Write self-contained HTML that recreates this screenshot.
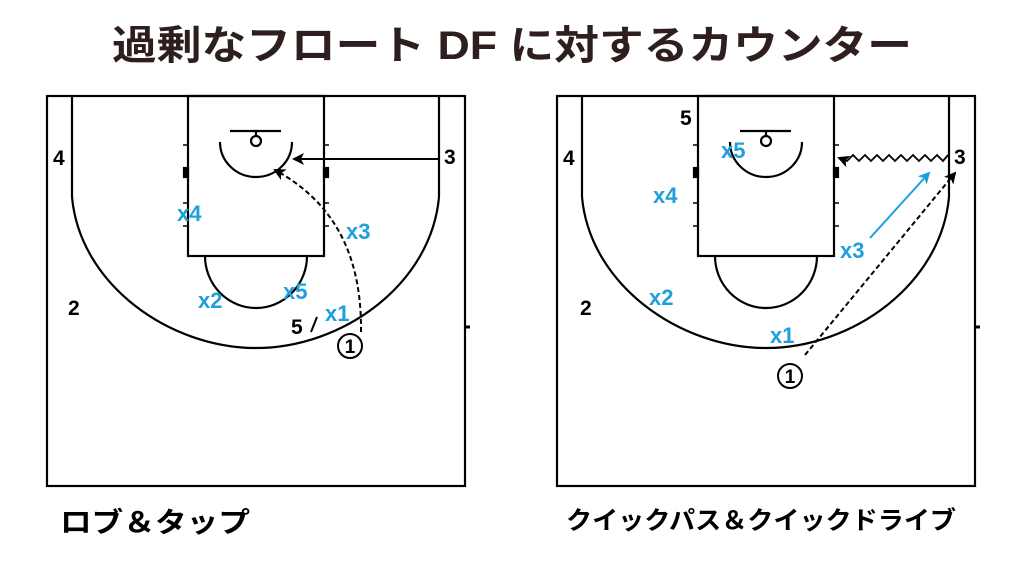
<!DOCTYPE html>
<html><head><meta charset="utf-8"><style>
html,body{margin:0;padding:0;background:#fff;}
svg{display:block;}
text{font-family:"Liberation Sans","Noto Sans CJK JP",sans-serif;font-weight:bold;}
</style></head><body>
<svg width="1024" height="562" viewBox="0 0 1024 562" xmlns="http://www.w3.org/2000/svg">
<defs>
<marker id="ah" markerWidth="12" markerHeight="12" refX="10" refY="6" orient="auto" markerUnits="userSpaceOnUse"><path d="M0,0 L12,6 L0,12 L3,6 Z" fill="#000"/></marker>
<marker id="ahb" markerWidth="12" markerHeight="12" refX="10" refY="6" orient="auto" markerUnits="userSpaceOnUse"><path d="M0,0 L12,6 L0,12 L3,6 Z" fill="#1ea0dc"/></marker>
<g id="court" fill="none" stroke="#000" stroke-width="2.2">
<rect x="47" y="96" width="418" height="390"/>
<line x1="465" y1="327" x2="470" y2="327" stroke-width="3"/>
<rect x="188" y="96" width="136" height="160"/>
<line x1="72" y1="96" x2="72" y2="197"/>
<line x1="439" y1="96" x2="439" y2="197"/>
<path d="M72,197 C80,285 170,348 256,348 C342,348 431,285 439,197"/>
<path d="M205,256 A51,52 0 0 0 307,256"/>
<path d="M220,142 A36,35 0 0 0 292,142"/>
<line x1="230" y1="131" x2="281" y2="131"/>
<line x1="256" y1="131" x2="256" y2="136"/>
<circle cx="256" cy="141" r="5"/>
<g stroke-width="1.5">
<line x1="183" y1="145" x2="188" y2="145"/><line x1="324" y1="145" x2="329" y2="145"/>
<line x1="183" y1="203" x2="188" y2="203"/><line x1="324" y1="203" x2="329" y2="203"/>
<line x1="183" y1="226" x2="188" y2="226"/><line x1="324" y1="226" x2="329" y2="226"/>
</g>
<rect x="184" y="168" width="4" height="9" fill="#000"/><rect x="324" y="168" width="4" height="9" fill="#000"/>
</g>
</defs>
<text x="512" y="59" text-anchor="middle" font-size="40" fill="#2e1e1e" textLength="800" lengthAdjust="spacingAndGlyphs">過剰なフロート DF に対するカウンター</text>

<use href="#court"/>
<use href="#court" x="510"/>

<g font-size="21" fill="#000">
<text x="53" y="165">4</text><text x="68" y="315">2</text><text x="444" y="164">3</text>
<text x="291" y="334">5</text>
</g>
<path d="M311,332 L317,317" stroke="#000" stroke-width="2"/>
<g font-size="22" fill="#1ea0dc">
<text x="177" y="221">x4</text><text x="346" y="239">x3</text><text x="198" y="308">x2</text><text x="283" y="299">x5</text><text x="325" y="321">x1</text>
</g>
<circle cx="350" cy="346" r="12" fill="#fff" stroke="#000" stroke-width="2"/>
<text x="350" y="353" text-anchor="middle" font-size="19">1</text>
<line x1="439" y1="159" x2="294" y2="159" stroke="#000" stroke-width="2" marker-end="url(#ah)"/>
<path d="M361,332 C362,250 330,200 275,170" fill="none" stroke="#000" stroke-width="2" stroke-dasharray="5,3" marker-end="url(#ah)"/>

<g font-size="21" fill="#000">
<text x="563" y="165">4</text><text x="580" y="315">2</text><text x="954" y="164">3</text><text x="680" y="125">5</text>
</g>
<g font-size="22" fill="#1ea0dc">
<text x="721" y="158">x5</text><text x="653" y="203">x4</text><text x="840" y="258">x3</text><text x="649" y="305">x2</text><text x="770" y="343">x1</text>
</g>
<circle cx="790" cy="376" r="12" fill="#fff" stroke="#000" stroke-width="2"/>
<text x="790" y="383" text-anchor="middle" font-size="19">1</text>
<path d="M948,155 l-5,6 l-6,-6 l-6,6 l-6,-6 l-6,6 l-6,-6 l-6,6 l-6,-6 l-6,6 l-6,-6 l-6,6 l-6,-6 l-6,6 l-6,-6 l-6,6 l-6,-6 l-6,6 l-8,-3" fill="none" stroke="#000" stroke-width="1.8" marker-end="url(#ah)"/>
<line x1="870" y1="238" x2="929" y2="173" stroke="#1ea0dc" stroke-width="2" marker-end="url(#ahb)"/>
<line x1="805" y1="355" x2="955" y2="173" stroke="#000" stroke-width="2" stroke-dasharray="5,3" marker-end="url(#ah)"/>

<text x="60" y="532" font-size="28" fill="#000" textLength="190" lengthAdjust="spacingAndGlyphs">ロブ＆タップ</text>
<text x="566" y="529" font-size="25" fill="#000" textLength="390" lengthAdjust="spacingAndGlyphs">クイックパス＆クイックドライブ</text>
</svg>
</body></html>
